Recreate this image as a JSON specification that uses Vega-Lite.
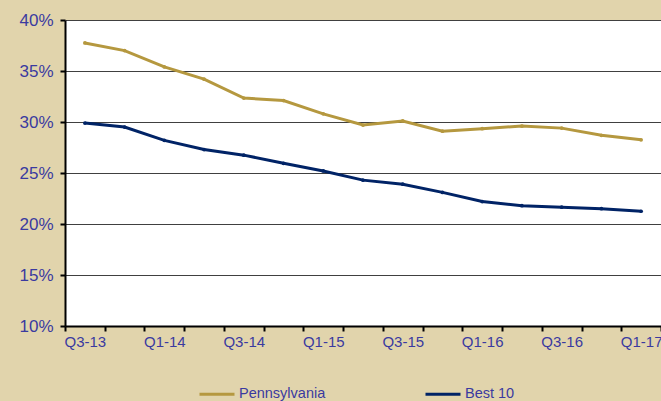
{
  "$schema": "https://vega.github.io/schema/vega-lite/v6.json",
  "width": 596,
  "height": 306,
  "autosize": {"type": "none"},
  "padding": {"left": 65, "top": 20, "right": 0, "bottom": 75},
  "background": "#E1D4AC",
  "view": {"fill": "white", "stroke": null},
  "data": {
    "values": [
      {"q": "Q3-13", "s": "Pennsylvania", "v": 37.75},
      {"q": "Q4-13", "s": "Pennsylvania", "v": 37.0},
      {"q": "Q1-14", "s": "Pennsylvania", "v": 35.4},
      {"q": "Q2-14", "s": "Pennsylvania", "v": 34.2},
      {"q": "Q3-14", "s": "Pennsylvania", "v": 32.35},
      {"q": "Q4-14", "s": "Pennsylvania", "v": 32.1},
      {"q": "Q1-15", "s": "Pennsylvania", "v": 30.8},
      {"q": "Q2-15", "s": "Pennsylvania", "v": 29.7},
      {"q": "Q3-15", "s": "Pennsylvania", "v": 30.1},
      {"q": "Q4-15", "s": "Pennsylvania", "v": 29.1},
      {"q": "Q1-16", "s": "Pennsylvania", "v": 29.35},
      {"q": "Q2-16", "s": "Pennsylvania", "v": 29.6},
      {"q": "Q3-16", "s": "Pennsylvania", "v": 29.4},
      {"q": "Q4-16", "s": "Pennsylvania", "v": 28.7},
      {"q": "Q1-17", "s": "Pennsylvania", "v": 28.25},
      {"q": "Q3-13", "s": "Best 10", "v": 29.9},
      {"q": "Q4-13", "s": "Best 10", "v": 29.5},
      {"q": "Q1-14", "s": "Best 10", "v": 28.2},
      {"q": "Q2-14", "s": "Best 10", "v": 27.3},
      {"q": "Q3-14", "s": "Best 10", "v": 26.75},
      {"q": "Q4-14", "s": "Best 10", "v": 25.95},
      {"q": "Q1-15", "s": "Best 10", "v": 25.2},
      {"q": "Q2-15", "s": "Best 10", "v": 24.3},
      {"q": "Q3-15", "s": "Best 10", "v": 23.9},
      {"q": "Q4-15", "s": "Best 10", "v": 23.1},
      {"q": "Q1-16", "s": "Best 10", "v": 22.2},
      {"q": "Q2-16", "s": "Best 10", "v": 21.8},
      {"q": "Q3-16", "s": "Best 10", "v": 21.65},
      {"q": "Q4-16", "s": "Best 10", "v": 21.5},
      {"q": "Q1-17", "s": "Best 10", "v": 21.25}
    ]
  },
  "mark": {"type": "line", "strokeWidth": 3, "point": {"filled": true, "size": 14}},
  "encoding": {
    "x": {
      "field": "q",
      "type": "ordinal",
      "sort": null,
      "scale": {"type": "band", "paddingInner": 0, "paddingOuter": 0},
      "axis": {
        "title": null,
        "labelAngle": 0,
        "tickBand": "extent",
        "labelExpr": "test(/Q[13]/, datum.label) ? datum.label : ''",
        "labelOverlap": false,
        "labelFont": "Liberation Sans",
        "labelFontSize": 15,
        "labelColor": "#3A3AA0",
        "labelPadding": 3,
        "domainColor": "black",
        "domainWidth": 2,
        "tickColor": "black",
        "tickWidth": 2,
        "tickSize": 5,
        "grid": false
      }
    },
    "y": {
      "field": "v",
      "type": "quantitative",
      "scale": {"domain": [10, 40], "nice": false},
      "axis": {
        "title": null,
        "values": [10, 15, 20, 25, 30, 35, 40],
        "labelExpr": "datum.value + '%'",
        "labelFont": "Liberation Sans",
        "labelFontSize": 17,
        "labelColor": "#3A3AA0",
        "labelPadding": 7,
        "domainColor": "black",
        "domainWidth": 2,
        "tickColor": "black",
        "tickWidth": 2,
        "tickSize": 5,
        "grid": true,
        "gridColor": "#404040",
        "gridWidth": 1
      }
    },
    "color": {
      "field": "s",
      "type": "nominal",
      "sort": ["Pennsylvania", "Best 10"],
      "scale": {"domain": ["Pennsylvania", "Best 10"], "range": ["#B5983F", "#002366"]},
      "legend": {
        "title": null,
        "orient": "none",
        "direction": "horizontal",
        "legendX": 133,
        "legendY": 355,
        "symbolType": "stroke",
        "symbolSize": 1225,
        "symbolStrokeWidth": 3,
        "symbolOffset": 0,
        "labelFont": "Liberation Sans",
        "labelFontSize": 14.5,
        "labelColor": "#3A3AA0",
        "labelOffset": 3,
        "columnPadding": 93,
        "encode": {
          "symbols": {
            "update": {
              "stroke": {"field": "value", "scale": "color"},
              "strokeWidth": {"value": 3},
              "opacity": {"value": 1}
            }
          }
        }
      }
    }
  }
}
